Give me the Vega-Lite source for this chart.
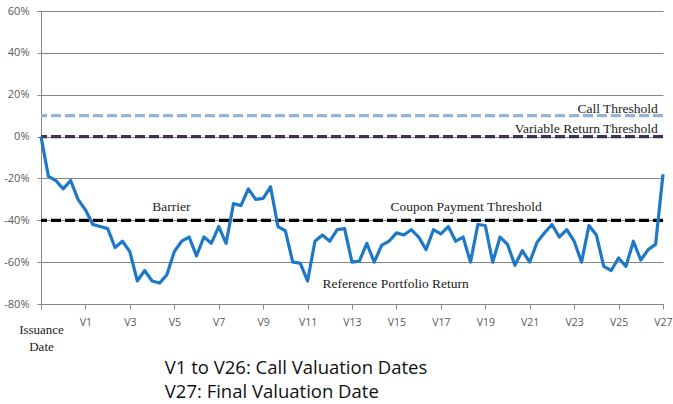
{
  "$schema": "https://vega.github.io/schema/vega-lite/v6.json",
  "autosize": {"type": "none"},
  "padding": {"left": 41, "top": 11, "right": 10, "bottom": 100},
  "width": 622,
  "height": 293,
  "background": "white",
  "config": {"view": {"stroke": null}},
  "title": {
    "text": ["V1 to V26: Call Valuation Dates", "V27: Final Valuation Date"],
    "orient": "bottom",
    "anchor": "start",
    "dx": 161,
    "offset": 6,
    "font": "Open Sans",
    "fontSize": 18.5,
    "fontWeight": "normal",
    "color": "#111111",
    "lineHeight": 24
  },
  "layer": [
    {
      "data": {"values": [
        {"name": "Call Threshold", "level": 10},
        {"name": "Variable Return Threshold", "level": 0},
        {"name": "Barrier", "level": -40}
      ]},
      "mark": {"type": "rule", "strokeDash": [10, 4], "strokeWidth": 3.2},
      "encoding": {
        "y": {"field": "level", "type": "quantitative", "scale": {"domain": [-80, 60], "nice": false}},
        "color": {
          "field": "name", "type": "nominal", "legend": null,
          "scale": {"domain": ["Call Threshold", "Variable Return Threshold", "Barrier"], "range": ["#95B3D7", "#403152", "#000000"]}
        }
      }
    },
    {
      "data": {"values": [
        {"i": 0, "r": 0}, {"i": 1, "r": -19}, {"i": 2, "r": -21}, {"i": 3, "r": -25}, {"i": 4, "r": -21},
        {"i": 5, "r": -30}, {"i": 6, "r": -35}, {"i": 7, "r": -42}, {"i": 8, "r": -43}, {"i": 9, "r": -44},
        {"i": 10, "r": -53}, {"i": 11, "r": -50}, {"i": 12, "r": -55}, {"i": 13, "r": -69}, {"i": 14, "r": -64},
        {"i": 15, "r": -69}, {"i": 16, "r": -70}, {"i": 17, "r": -66}, {"i": 18, "r": -55}, {"i": 19, "r": -50},
        {"i": 20, "r": -48}, {"i": 21, "r": -57}, {"i": 22, "r": -48}, {"i": 23, "r": -51}, {"i": 24, "r": -43},
        {"i": 25, "r": -51}, {"i": 26, "r": -32}, {"i": 27, "r": -33}, {"i": 28, "r": -25}, {"i": 29, "r": -30},
        {"i": 30, "r": -29.5}, {"i": 31, "r": -24}, {"i": 32, "r": -43}, {"i": 33, "r": -45}, {"i": 34, "r": -60},
        {"i": 35, "r": -60.5}, {"i": 36, "r": -69}, {"i": 37, "r": -50}, {"i": 38, "r": -47}, {"i": 39, "r": -50},
        {"i": 40, "r": -44.5}, {"i": 41, "r": -44}, {"i": 42, "r": -60}, {"i": 43, "r": -59.5}, {"i": 44, "r": -51},
        {"i": 45, "r": -60}, {"i": 46, "r": -52}, {"i": 47, "r": -50}, {"i": 48, "r": -46}, {"i": 49, "r": -47},
        {"i": 50, "r": -44.5}, {"i": 51, "r": -48}, {"i": 52, "r": -54}, {"i": 53, "r": -44.5}, {"i": 54, "r": -46.5},
        {"i": 55, "r": -43}, {"i": 56, "r": -50}, {"i": 57, "r": -48}, {"i": 58, "r": -60}, {"i": 59, "r": -42},
        {"i": 60, "r": -42.5}, {"i": 61, "r": -60}, {"i": 62, "r": -48}, {"i": 63, "r": -51.5}, {"i": 64, "r": -61.5},
        {"i": 65, "r": -54.5}, {"i": 66, "r": -60}, {"i": 67, "r": -50.5}, {"i": 68, "r": -46}, {"i": 69, "r": -42},
        {"i": 70, "r": -48}, {"i": 71, "r": -44.5}, {"i": 72, "r": -50}, {"i": 73, "r": -60}, {"i": 74, "r": -42.5},
        {"i": 75, "r": -47}, {"i": 76, "r": -62}, {"i": 77, "r": -64}, {"i": 78, "r": -58}, {"i": 79, "r": -62},
        {"i": 80, "r": -50}, {"i": 81, "r": -59}, {"i": 82, "r": -54}, {"i": 83, "r": -51.5}, {"i": 84, "r": -18}
      ]},
      "mark": {"type": "line", "color": "#1E78C8", "strokeWidth": 3.2, "strokeJoin": "round"},
      "encoding": {
        "x": {
          "field": "i", "type": "quantitative",
          "scale": {"domain": [0, 84], "nice": false, "zero": false},
          "axis": {
            "title": null,
            "values": [0, 3, 6, 9, 12, 15, 18, 21, 24, 27, 30, 33, 36, 39, 42, 45, 48, 51, 54, 57, 60, 63, 66, 69, 72, 75, 78, 81, 84],
            "labelExpr": "datum.value == 0 ? ['Issuance', 'Date'] : ((datum.value / 3) % 2 == 0 ? 'V' + (datum.value / 3 - 1) : '')",
            "grid": false,
            "domainColor": "#868686",
            "tickColor": "#868686",
            "tickSize": 5,
            "labelOverlap": false,
            "labelFlush": false,
            "labelBound": false,
            "labelFont": {"condition": {"test": "datum.value == 0", "value": "Liberation Serif"}, "value": "Open Sans"},
            "labelFontSize": {"condition": {"test": "datum.value == 0", "value": 13}, "value": 10.5},
            "labelColor": {"condition": {"test": "datum.value == 0", "value": "#222222"}, "value": "#595959"},
            "labelPadding": {"condition": {"test": "datum.value == 0", "value": 14}, "value": 8},
            "labelLineHeight": 17
          }
        },
        "y": {
          "field": "r", "type": "quantitative",
          "scale": {"domain": [-80, 60], "nice": false},
          "axis": {
            "title": null,
            "values": [-80, -60, -40, -20, 0, 20, 40, 60],
            "labelExpr": "datum.value + '%'",
            "gridColor": "#868686",
            "gridWidth": 1,
            "domainColor": "#868686",
            "tickColor": "#868686",
            "tickSize": 4,
            "labelPadding": 8,
            "labelFont": "Open Sans",
            "labelFontSize": 11,
            "labelColor": "#595959"
          }
        }
      }
    },
    {
      "data": {"values": [
        {"label": "Call Threshold", "x": 83.3, "y": 11.5},
        {"label": "Variable Return Threshold", "x": 83.3, "y": 1.9}
      ]},
      "mark": {"type": "text", "font": "Liberation Serif", "fontSize": 13.5, "color": "#222222", "baseline": "alphabetic", "align": "right"},
      "encoding": {
        "x": {"field": "x", "type": "quantitative"},
        "y": {"field": "y", "type": "quantitative"},
        "text": {"field": "label"}
      }
    },
    {
      "data": {"values": [
        {"label": "Barrier", "x": 17.6, "y": -35.7},
        {"label": "Coupon Payment Threshold", "x": 57.4, "y": -35.7},
        {"label": "Reference Portfolio Return", "x": 47.9, "y": -72.4}
      ]},
      "mark": {"type": "text", "font": "Liberation Serif", "fontSize": 13.5, "color": "#222222", "baseline": "alphabetic", "align": "center"},
      "encoding": {
        "x": {"field": "x", "type": "quantitative"},
        "y": {"field": "y", "type": "quantitative"},
        "text": {"field": "label"}
      }
    }
  ]
}
